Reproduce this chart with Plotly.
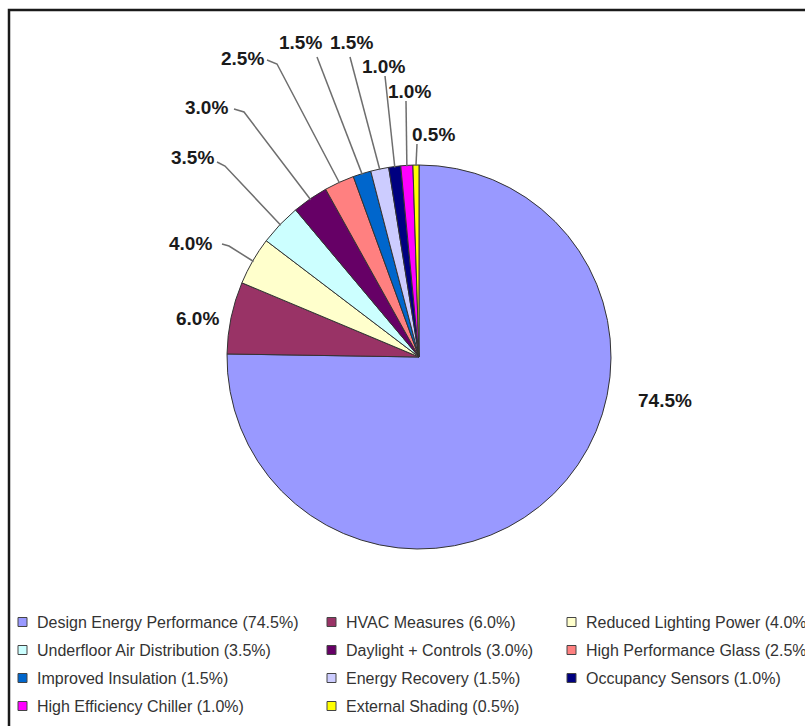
import math
import plotly.graph_objects as go

# Energy-savings breakdown (percent share of each measure)
categories = [
    "Design Energy Performance", "HVAC Measures", "Reduced Lighting Power",
    "Underfloor Air Distribution", "Daylight + Controls", "High Performance Glass",
    "Improved Insulation", "Energy Recovery", "Occupancy Sensors",
    "High Efficiency Chiller", "External Shading",
]
shares = [74.5, 6.0, 4.0, 3.5, 3.0, 2.5, 1.5, 1.5, 1.0, 1.0, 0.5]
slice_colors = [
    "#9999FF", "#993366", "#FFFFCC", "#CCFFFF", "#660066", "#FF8080",
    "#0066CC", "#CCCCFF", "#000080", "#FF00FF", "#FFFF00",
]

# ---- layout geometry (pixels) ----
W, H = 805, 726
CX, CY, R = 419, 357, 192

# centre of each percentage label
label_pos = [(665, 400), (197, 318), (190, 243), (192, 158), (207, 108),
             (242, 58), (300, 42), (351, 42), (383, 67), (409, 92), (433, 135)]
# leader line points on the label side (the slice end is computed from the angle)
leader_head = [None, None,
               [(222, 244), (229, 246)],
               [(217, 162), (225, 166)],
               [(234, 109), (244, 112)],
               [(267, 60), (277, 64)],
               [(317, 57)],
               [(350, 57)],
               [(385, 76)],
               [(406, 101)],
               [(417, 144)]]

legend_cols = [18, 327, 567]
legend_rows = [622, 650, 678, 706]
BOX = 9


def px(x):
    return x / W


def py(y):
    return 1 - y / H


fig = go.Figure(go.Pie(
    labels=categories,
    values=shares,
    sort=False,
    direction="clockwise",
    rotation=0,
    textinfo="none",
    hovertemplate="%{label}: %{value:.1f}%<extra></extra>",
    marker=dict(colors=slice_colors, line=dict(color="#333333", width=1)),
    domain=dict(x=[px(CX - R), px(CX + R)], y=[py(CY + R), py(CY - R)]),
    showlegend=False,
))

shapes = []
annotations = []

# percentage labels with leader lines to the slice mid-angle on the rim
total = sum(shares)
cum = 0.0
for i, v in enumerate(shares):
    mid = (cum + v / 2) / total * 2 * math.pi
    cum += v
    ex = CX + (R - 1) * math.sin(mid)
    ey = CY - (R - 1) * math.cos(mid)
    lx, ly = label_pos[i]
    annotations.append(dict(
        x=px(lx), y=py(ly), xref="paper", yref="paper",
        text=f"{v:.1f}%", showarrow=False,
        xanchor="center", yanchor="middle",
        font=dict(family="Arial, Liberation Sans", size=19, color="#1a1a1a", weight="bold"),
    ))
    if leader_head[i]:
        pts = leader_head[i] + [(ex, ey)]
        path = "M " + " L ".join(f"{px(x):.5f},{py(y):.5f}" for x, y in pts)
        shapes.append(dict(type="path", xref="paper", yref="paper", path=path,
                           line=dict(color="#6e6e6e", width=1.5)))

# legend: three columns, rows filled left to right
for i, (name, v, c) in enumerate(zip(categories, shares, slice_colors)):
    x0 = legend_cols[i % 3]
    yc = legend_rows[i // 3]
    shapes.append(dict(type="rect", xref="paper", yref="paper",
                       x0=px(x0), x1=px(x0 + BOX),
                       y0=py(yc + BOX / 2), y1=py(yc - BOX / 2),
                       fillcolor=c, line=dict(color="#444444", width=1)))
    annotations.append(dict(
        x=px(x0 + BOX + 8), y=py(yc), xref="paper", yref="paper",
        text=f"{name} ({v:.1f}%)", showarrow=False,
        xanchor="left", yanchor="middle",
        font=dict(family="Arial, Liberation Sans", size=16, color="#333333"),
    ))

# chart frame (runs off the right and bottom edges)
shapes.append(dict(type="rect", xref="paper", yref="paper",
                   x0=px(9), x1=1.02, y0=-0.02, y1=py(10),
                   line=dict(color="#1a1a1a", width=2.5), fillcolor="rgba(0,0,0,0)"))

fig.update_layout(
    width=W, height=H,
    margin=dict(l=0, r=0, t=0, b=0),
    paper_bgcolor="white",
    plot_bgcolor="white",
    shapes=shapes,
    annotations=annotations,
)

fig.write_html("out.html")
